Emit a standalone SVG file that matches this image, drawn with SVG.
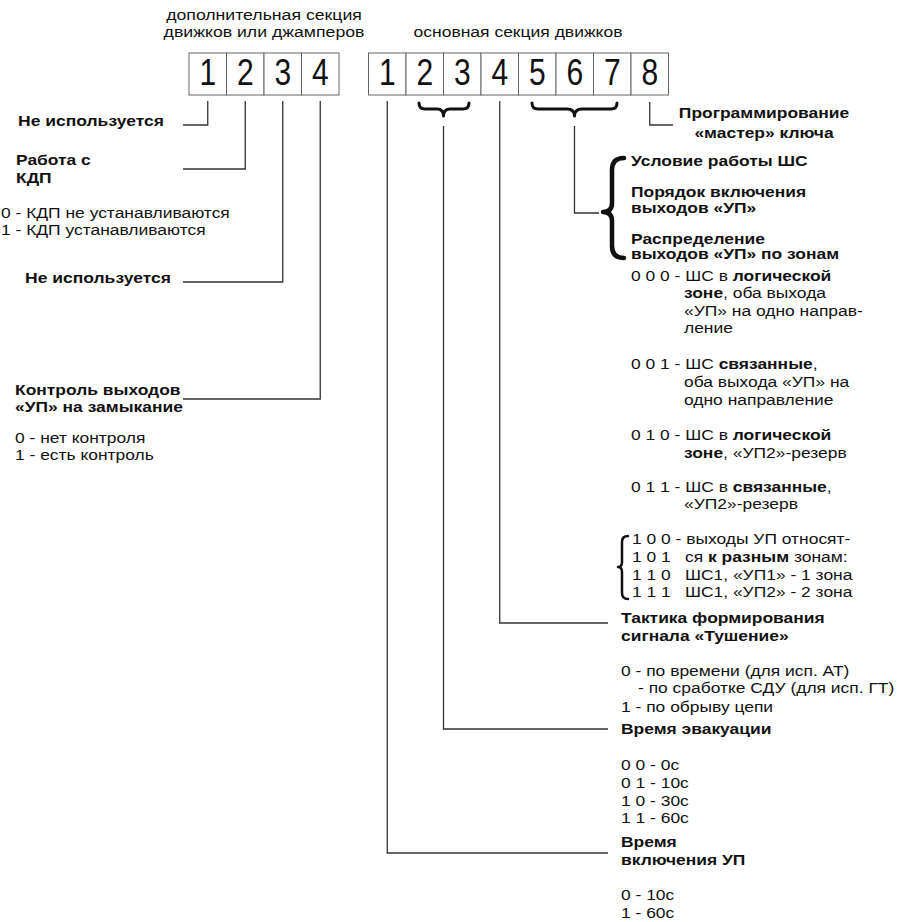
<svg xmlns="http://www.w3.org/2000/svg" width="899" height="922" viewBox="0 0 899 922">
<style>
text{font-family:"Liberation Sans",Arial,sans-serif;fill:#111;font-size:15.5px}
.b{font-weight:bold}
.d{font-size:30px;text-anchor:middle}
.box{fill:#fff;stroke:#666;stroke-width:1}
.ln{fill:none;stroke:#333;stroke-width:1.3}
.br{fill:none;stroke:#111;stroke-linecap:round;stroke-linejoin:round}
.m{text-anchor:middle}
</style>
<rect width="899" height="922" fill="#fff"/>
<g id="headers">
<text class="m" transform="matrix(1.14,0,0,1,264,20)">дополнительная секция</text>
<text class="m" transform="matrix(1.14,0,0,1,264,37)">движков или джамперов</text>
<text class="m" transform="matrix(1.13,0,0,1,518,37)">основная секция движков</text>
</g>
<g id="extra-section">
<rect class="box" x="189" y="53" width="37.5" height="42"/>
<rect class="box" x="226.5" y="53" width="37.5" height="42"/>
<rect class="box" x="264" y="53" width="37.5" height="42"/>
<rect class="box" x="301.5" y="53" width="37.5" height="42"/>
<text class="d" transform="translate(207.75,85) scale(1,1.22)">1</text>
<text class="d" transform="translate(245.25,85) scale(1,1.22)">2</text>
<text class="d" transform="translate(282.75,85) scale(1,1.22)">3</text>
<text class="d" transform="translate(320.25,85) scale(1,1.22)">4</text>
</g>
<g id="main-section">
<rect class="box" x="368.5" y="53" width="37.5" height="42"/>
<rect class="box" x="406" y="53" width="37.5" height="42"/>
<rect class="box" x="443.5" y="53" width="37.5" height="42"/>
<rect class="box" x="481" y="53" width="37.5" height="42"/>
<rect class="box" x="518.5" y="53" width="37.5" height="42"/>
<rect class="box" x="556" y="53" width="37.5" height="42"/>
<rect class="box" x="593.5" y="53" width="37.5" height="42"/>
<rect class="box" x="631" y="53" width="37.5" height="42"/>
<text class="d" transform="translate(387.25,85) scale(1,1.22)">1</text>
<text class="d" transform="translate(424.75,85) scale(1,1.22)">2</text>
<text class="d" transform="translate(462.25,85) scale(1,1.22)">3</text>
<text class="d" transform="translate(499.75,85) scale(1,1.22)">4</text>
<text class="d" transform="translate(537.25,85) scale(1,1.22)">5</text>
<text class="d" transform="translate(574.75,85) scale(1,1.22)">6</text>
<text class="d" transform="translate(612.25,85) scale(1,1.22)">7</text>
<text class="d" transform="translate(649.75,85) scale(1,1.22)">8</text>
</g>
<g id="connectors">
<path class="ln" d="M207.75,101 V125 H183"/>
<path class="ln" d="M245.25,101 V169 H183"/>
<path class="ln" d="M282.75,101 V282 H183"/>
<path class="ln" d="M320.25,101 V399 H183"/>
<path class="ln" d="M387.25,101 V853 H608"/>
<path class="ln" d="M443.5,126 V729 H608"/>
<path class="ln" d="M499.75,101 V623 H608"/>
<path class="ln" d="M574.5,126 V213 H599"/>
<path class="ln" d="M649.75,102 V125 H673"/>
<path class="br" stroke-width="3" d="M419,103 Q419,109 425,109 L437,109 Q443.5,109 443.5,116 Q443.5,109 450,109 L463,109 Q469,109 469,103"/>
<path class="br" stroke-width="3" d="M532,103 Q532,109 538,109 L567,109 Q574.5,109 574.5,116 Q574.5,109 582,109 L611,109 Q617,109 617,103"/>
<path class="br" stroke-width="4.5" d="M624,158 Q612,158 612,170 L612,203 Q612,212 603,212 Q612,212 612,221 L612,246 Q612,258 624,258"/>
<path class="br" stroke-width="2.5" d="M628,536 Q622,536 622,542 L622,562 Q622,567 618,567 Q622,567 622,572 L622,593 Q622,599 628,599"/>
</g>
<g id="bit1-extra"><text class="b" transform="matrix(1.13,0,0,1,18,126)">Не используется</text></g>
<g id="bit2-extra">
<text class="b" transform="matrix(1.125,0,0,1,16,165)">Работа с</text>
<text class="b" transform="matrix(1.125,0,0,1,16,183)">КДП</text>
<text transform="matrix(1.125,0,0,1,1,218)">0 - КДП не устанавливаются</text>
<text transform="matrix(1.125,0,0,1,1,235)">1 - КДП устанавливаются</text>
</g>
<g id="bit3-extra"><text class="b" transform="matrix(1.13,0,0,1,25,283)">Не используется</text></g>
<g id="bit4-extra">
<text class="b" transform="matrix(1.125,0,0,1,15,395)">Контроль выходов</text>
<text class="b" transform="matrix(1.125,0,0,1,15,412)">«УП» на замыкание</text>
<text transform="matrix(1.125,0,0,1,15,443)">0 - нет контроля</text>
<text transform="matrix(1.125,0,0,1,15,460)">1 - есть контроль</text>
</g>
<g id="bit8">
<text class="b m" transform="matrix(1.125,0,0,1,764,118)">Программирование</text>
<text class="b m" transform="matrix(1.125,0,0,1,764,138)">«мастер» ключа</text>
</g>
<g id="bits567">
<text class="b" transform="matrix(1.125,0,0,1,631,166)">Условие работы ШС</text>
<text class="b" transform="matrix(1.125,0,0,1,631,197)">Порядок включения</text>
<text class="b" transform="matrix(1.125,0,0,1,631,213)">выходов «УП»</text>
<text class="b" transform="matrix(1.125,0,0,1,631,244)">Распределение</text>
<text class="b" transform="matrix(1.125,0,0,1,631,259)">выходов «УП» по зонам</text>
<text transform="matrix(1.125,0,0,1,631,281)">0 0 0 - ШС в <tspan class="b">логической</tspan></text>
<text transform="matrix(1.125,0,0,1,684,298)"><tspan class="b">зоне</tspan>, оба выхода</text>
<text transform="matrix(1.125,0,0,1,684,316)">«УП» на одно направ-</text>
<text transform="matrix(1.125,0,0,1,684,333)">ление</text>
<text transform="matrix(1.125,0,0,1,631,369)">0 0 1 - ШС <tspan class="b">связанные</tspan>,</text>
<text transform="matrix(1.125,0,0,1,684,387)">оба выхода «УП» на</text>
<text transform="matrix(1.125,0,0,1,684,405)">одно направление</text>
<text transform="matrix(1.125,0,0,1,631,440)">0 1 0 - ШС в <tspan class="b">логической</tspan></text>
<text transform="matrix(1.125,0,0,1,684,458)"><tspan class="b">зоне</tspan>, «УП2»-резерв</text>
<text transform="matrix(1.125,0,0,1,631,492)">0 1 1 - ШС в <tspan class="b">связанные</tspan>,</text>
<text transform="matrix(1.125,0,0,1,684,509)">«УП2»-резерв</text>
<text transform="matrix(1.125,0,0,1,632,544)">1 0 0 - выходы УП относят-</text>
<text transform="matrix(1.125,0,0,1,632,562)">1 0 1</text>
<text transform="matrix(1.125,0,0,1,685,562)">ся <tspan class="b">к разным</tspan> зонам:</text>
<text transform="matrix(1.125,0,0,1,632,580)">1 1 0</text>
<text transform="matrix(1.125,0,0,1,685,580)">ШС1, «УП1» - 1 зона</text>
<text transform="matrix(1.125,0,0,1,632,597)">1 1 1</text>
<text transform="matrix(1.125,0,0,1,685,597)">ШС1, «УП2» - 2 зона</text>
</g>
<g id="bit4">
<text class="b" transform="matrix(1.125,0,0,1,621,623)">Тактика формирования</text>
<text class="b" transform="matrix(1.125,0,0,1,621,641)">сигнала «Тушение»</text>
<text transform="matrix(1.125,0,0,1,621,676)">0 - по времени (для исп. АТ)</text>
<text transform="matrix(1.125,0,0,1,638,693)">- по сработке СДУ (для исп. ГТ)</text>
<text transform="matrix(1.125,0,0,1,621,712)">1 - по обрыву цепи</text>
</g>
<g id="bits23">
<text class="b" transform="matrix(1.125,0,0,1,621,734)">Время эвакуации</text>
<text transform="matrix(1.125,0,0,1,621,770)">0 0 - 0с</text>
<text transform="matrix(1.125,0,0,1,621,788)">0 1 - 10с</text>
<text transform="matrix(1.125,0,0,1,621,806)">1 0 - 30с</text>
<text transform="matrix(1.125,0,0,1,621,823)">1 1 - 60с</text>
</g>
<g id="bit1">
<text class="b" transform="matrix(1.125,0,0,1,621,847)">Время</text>
<text class="b" transform="matrix(1.125,0,0,1,621,865)">включения УП</text>
<text transform="matrix(1.125,0,0,1,621,900)">0 - 10с</text>
<text transform="matrix(1.125,0,0,1,621,918)">1 - 60с</text>
</g>
</svg>
